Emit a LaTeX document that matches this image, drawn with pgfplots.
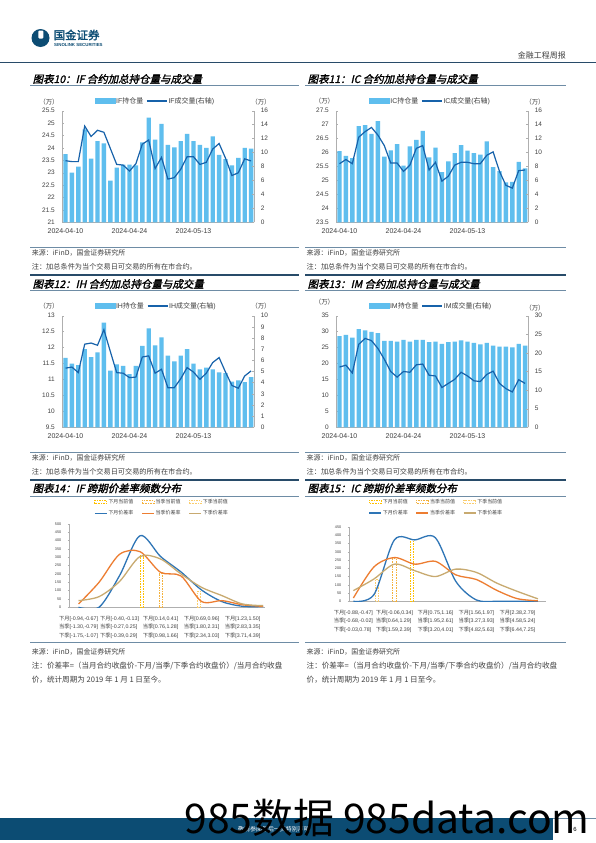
\documentclass[border=0pt]{standalone}
\usepackage{pgfplots}
\pgfplotsset{compat=1.18}
\usepackage{pgfplotstable}
\usepackage{fontspec}
\setmainfont{Liberation Sans}
\newfontfamily\cjk{Noto Sans CJK SC}
\newfontfamily\cjktitle[FakeSlant=0.22,FakeBold=1.6]{Noto Sans CJK SC}
\newfontfamily\cjkbold[FakeBold=2]{Noto Sans CJK SC}
\newcommand{\zh}[1]{{\cjk #1}}

\definecolor{barblue}{RGB}{95,190,238}
\definecolor{lineblue}{RGB}{23,98,170}
\definecolor{axgray}{RGB}{175,175,175}
\definecolor{txtgray}{RGB}{64,64,64}
\definecolor{dblue}{RGB}{46,117,182}
\definecolor{dorange}{RGB}{237,125,49}
\definecolor{dtan}{RGB}{200,170,112}
\definecolor{cyA}{RGB}{255,192,0}
\definecolor{cyB}{RGB}{244,177,60}
\definecolor{cyC}{RGB}{250,205,110}
\definecolor{hdrblue}{RGB}{12,76,115}
\definecolor{linegb}{RGB}{110,140,165}
\definecolor{linedk}{RGB}{40,75,105}

\pgfplotstableread{
x oi vol
0 23.75 8.83
1 23.00 8.70
2 23.25 8.70
3 24.75 13.8
4 23.57 12.3
5 24.27 13.2
6 24.18 12.9
7 22.68 10.6
8 23.20 8.3
9 23.33 8.2
10 23.33 7.35
11 23.30 8.4
12 24.22 11.2
13 25.22 11.8
14 24.33 7.7
15 24.97 9.3
16 24.12 6.2
17 24.02 6.4
18 24.27 7.6
19 24.57 9.4
20 24.27 9.4
21 24.12 8.3
22 24.00 8.6
23 24.47 10.5
24 23.72 11.3
25 23.55 9.2
26 23.30 6.7
27 23.60 7.1
28 24.00 9.1
29 23.97 8.8
}\IFdata

\pgfplotstableread{
x oi vol
0 26.05 8.4
1 25.88 9.0
2 25.80 8.4
3 26.95 12.2
4 26.98 13.0
5 26.67 13.6
6 27.13 12.5
7 25.85 11.0
8 26.08 8.5
9 26.30 8.5
10 25.53 7.3
11 26.22 8.2
12 26.45 10.6
13 26.78 11.0
14 25.83 7.5
15 26.18 8.6
16 25.30 5.9
17 25.68 6.6
18 25.98 8.2
19 26.27 8.6
20 26.07 8.6
21 25.98 8.4
22 25.93 8.4
23 26.40 9.6
24 25.48 10.1
25 25.33 7.3
26 24.93 5.3
27 24.95 4.9
28 25.67 7.4
29 25.43 7.5
}\ICdata

\pgfplotstableread{
x oi vol
0 11.68 5.3
1 11.50 5.4
2 11.45 4.9
3 11.95 7.45
4 11.70 7.55
5 11.85 7.35
6 12.78 8.75
7 11.28 6.8
8 11.47 4.9
9 11.43 4.85
10 11.17 4.45
11 11.43 4.5
12 12.05 6.3
13 12.60 6.4
14 12.07 4.85
15 12.32 5.2
16 11.75 3.55
17 11.57 3.55
18 11.75 4.35
19 11.95 5.35
20 11.50 4.95
21 11.32 4.3
22 11.37 4.85
23 11.32 5.8
24 11.22 6.25
25 11.20 4.95
26 10.93 3.75
27 10.97 3.5
28 10.92 4.6
29 11.07 5.05
}\IHdata

\pgfplotstableread{
x oi vol
0 28.6 16.2
1 29.0 16.7
2 28.1 14.6
3 30.8 22.3
4 30.4 23.9
5 29.9 23.3
6 29.5 21.2
7 27.1 18.3
8 27.1 15.0
9 26.9 13.5
10 27.4 15.0
11 26.9 14.8
12 27.4 16.8
13 27.4 17.0
14 26.7 14.0
15 26.9 13.8
16 26.2 10.7
17 26.7 11.8
18 26.9 12.9
19 27.3 14.8
20 26.9 13.8
21 26.5 12.5
22 26.0 12.3
23 26.5 14.2
24 25.6 15.1
25 25.3 11.8
26 25.3 10.4
27 25.1 9.5
28 26.2 12.8
29 25.6 11.8
}\IMdata

\pgfplotstableread{
x a b c
0 0 20 40
1 0 150 64
2 190 318 155
3 430 334 305
4 305 210 290
5 212 188 200
6 104 35 120
7 34 40 70
8 6 15 20
9 5 6 10
}\IFdist

\pgfplotstableread{
x a b c
0 0 20 65
1 40 208 135
2 372 265 225
3 372 225 185
4 385 242 150
5 120 160 195
6 8 132 175
7 0 66 110
8 0 16 60
9 0 3 15
}\ICdist

\pgfplotsset{
  common/.style={scale only axis, width=192bp, height=111.6bp, xmin=-0.5, xmax=29.5,
    anchor=south west, tick align=inside, major tick length=2bp,
    tick style={draw=axgray, line width=0.4bp},
    axis line style={draw=axgray, line width=0.5bp},
    ticklabel style={font=\fontsize{6.5}{7}\selectfont, text=txtgray},
    /pgf/number format/assume math mode=true},
  leftax/.style={common, axis x line*=bottom, axis y line*=left,
    xtick={0,10,20}, xticklabels={2024-04-10,2024-04-24,2024-05-13},
    xticklabel style={font=\fontsize{7}{8}\selectfont, yshift=-2.5bp},
    yticklabel style={xshift=-4bp}, xtick style={draw=none}},
  rightax/.style={common, axis x line=none, axis y line*=right,
    yticklabel style={xshift=3bp},
    legend columns=2, legend cell align=left,
    legend style={draw=none, fill=none, inner sep=0pt, anchor=center,
      font=\fontsize{7}{8}\selectfont, text=txtgray,
      /tikz/every even column/.append style={column sep=2bp},
      nodes={inner sep=1bp}}},
  distax/.style={scale only axis, anchor=south west, ymin=0,
    axis x line*=bottom, axis y line*=left,
    axis line style={draw=axgray, line width=0.5bp},
    tick style={draw=axgray, line width=0.4bp}, major tick length=1.5bp, tick align=outside,
    xtick={0,2,4,6,8}, xtick style={draw=none},
    yticklabel style={font=\fontsize{3.8}{4}\selectfont, text=txtgray, xshift=-3bp},
    xticklabel style={align=left, font=\fontsize{5.3}{8.3}\selectfont, text=txtgray, yshift=-4bp},
    /pgf/number format/assume math mode=true,
    legend columns=3, legend cell align=left,
    legend style={draw=none, fill=none, inner sep=0pt, anchor=center,
      font=\fontsize{5}{6}\selectfont, text=txtgray, row sep=3.5bp,
      /tikz/every even column/.append style={column sep=7bp},
      nodes={inner sep=1bp}}},
  barlegend/.style={legend image code/.code={\fill[barblue] (0bp,-2.3bp) rectangle (20bp,2.3bp);}},
  linelegend/.style={legend image code/.code={\draw[lineblue, line width=1.2bp] (0bp,0bp) -- (20bp,0bp);}},
  dashleg/.style={legend image code/.code={\draw[#1, line width=0.8bp, dash pattern=on 1.6bp off 1bp] (0bp,-1.7bp) rectangle (12bp,1.7bp);}},
  lineleg/.style={legend image code/.code={\draw[#1, line width=1.3bp] (0bp,0bp) -- (12bp,0bp);}},
  cur/.style={ybar, bar width=3.2bp, bar shift=0pt, fill=white, draw=#1, line width=0.8bp, dash pattern=on 1.6bp off 1bp, forget plot},
  curve/.style={smooth, tension=0.5, line width=1.3bp, draw=#1, forget plot}
}

\begin{document}
\begin{tikzpicture}
\path[use as bounding box, fill=white] (0,0) rectangle (596bp,-843bp);

% ===== IF =====
\begin{axis}[leftax, at={(62.3bp,-222.3bp)}, ymin=21, ymax=25.5,
  ytick={21,21.5,22,22.5,23,23.5,24,24.5,25,25.5}]
\addplot[ybar, bar width=4.4bp, fill=barblue, draw=none] table[x=x,y=oi]{\IFdata};
\end{axis}
\begin{axis}[rightax, at={(62.3bp,-222.3bp)}, ymin=0, ymax=16, ytick={0,2,...,16},
  legend style={at={(0.483,1.087)}}]
\addlegendimage{barlegend}\addlegendentry{IF\zh{持仓量}}
\addlegendimage{linelegend}\addlegendentry{IF\zh{成交量}(\zh{右轴})}
\addplot[lineblue, line width=1.2bp, forget plot] table[x=x,y=vol]{\IFdata};
\end{axis}

% ===== IC =====
\begin{axis}[leftax, at={(336.3bp,-222.3bp)}, ymin=23.5, ymax=27.5,
  ytick={23.5,24,24.5,25,25.5,26,26.5,27,27.5}]
\addplot[ybar, bar width=4.4bp, fill=barblue, draw=none] table[x=x,y=oi]{\ICdata};
\end{axis}
\begin{axis}[rightax, at={(336.3bp,-222.3bp)}, ymin=0, ymax=16, ytick={0,2,...,16},
  legend style={at={(0.488,1.087)}}]
\addlegendimage{barlegend}\addlegendentry{IC\zh{持仓量}}
\addlegendimage{linelegend}\addlegendentry{IC\zh{成交量}(\zh{右轴})}
\addplot[lineblue, line width=1.2bp, forget plot] table[x=x,y=vol]{\ICdata};
\end{axis}

% ===== IH =====
\begin{axis}[leftax, at={(62.3bp,-427.3bp)}, ymin=9.5, ymax=13,
  ytick={9.5,10,10.5,11,11.5,12,12.5,13}]
\addplot[ybar, bar width=4.4bp, fill=barblue, draw=none] table[x=x,y=oi]{\IHdata};
\end{axis}
\begin{axis}[rightax, at={(62.3bp,-427.3bp)}, ymin=0, ymax=10, ytick={0,1,...,10},
  legend style={at={(0.486,1.087)}}]
\addlegendimage{barlegend}\addlegendentry{IH\zh{持仓量}}
\addlegendimage{linelegend}\addlegendentry{IH\zh{成交量}(\zh{右轴})}
\addplot[lineblue, line width=1.2bp, forget plot] table[x=x,y=vol]{\IHdata};
\end{axis}

% ===== IM =====
\begin{axis}[leftax, at={(336.3bp,-427.3bp)}, ymin=0, ymax=35,
  ytick={0,5,...,35}]
\addplot[ybar, bar width=4.4bp, fill=barblue, draw=none] table[x=x,y=oi]{\IMdata};
\end{axis}
\begin{axis}[rightax, at={(336.3bp,-427.3bp)}, ymin=0, ymax=30, ytick={0,5,...,30},
  legend style={at={(0.49,1.087)}}]
\addlegendimage{barlegend}\addlegendentry{IM\zh{持仓量}}
\addlegendimage{linelegend}\addlegendentry{IM\zh{成交量}(\zh{右轴})}
\addplot[lineblue, line width=1.2bp, forget plot] table[x=x,y=vol]{\IMdata};
\end{axis}

% ===== IF distribution =====
\begin{axis}[distax, at={(69.3bp,-607.3bp)}, width=195.8bp, height=83.3bp,
  xmin=-0.45, xmax=9.1, ymax=500, ytick={0,50,...,500},
  xticklabels={{\zh{下月}[-0.94,-0.67]\\\zh{当季}[-1.30,-0.79]\\\zh{下季}[-1.75,-1.07]},
               {\zh{下月}[-0.40,-0.13]\\\zh{当季}[-0.27,0.25]\\\zh{下季}[-0.39,0.29]},
               {\zh{下月}[0.14,0.41]\\\zh{当季}[0.76,1.28]\\\zh{下季}[0.98,1.66]},
               {\zh{下月}[0.69,0.96]\\\zh{当季}[1.80,2.31]\\\zh{下季}[2.34,3.03]},
               {\zh{下月}[1.23,1.50]\\\zh{当季}[2.83,3.35]\\\zh{下季}[3.71,4.39]}},
  legend style={at={(0.471,1.196)}}]
\addlegendimage{dashleg=cyA}\addlegendentry{\zh{下月当前值}}
\addlegendimage{dashleg=cyB}\addlegendentry{\zh{当季当前值}}
\addlegendimage{dashleg=cyC}\addlegendentry{\zh{下季当前值}}
\addlegendimage{lineleg=dblue}\addlegendentry{\zh{下月价差率}}
\addlegendimage{lineleg=dorange}\addlegendentry{\zh{当季价差率}}
\addlegendimage{lineleg=dtan}\addlegendentry{\zh{下季价差率}}
\addplot[cur=cyA] coordinates {(3.09,310)};
\addplot[cur=cyB] coordinates {(4.0,205)};
\addplot[cur=cyC] coordinates {(5.87,95)};
\addplot[curve=dblue] table[x=x,y=a]{\IFdist};
\addplot[curve=dorange] table[x=x,y=b]{\IFdist};
\addplot[curve=dtan] table[x=x,y=c]{\IFdist};
\node[rotate=-90, anchor=center, inner sep=0, text=txtgray, font=\fontsize{4.8}{5}\selectfont]
  at (rel axis cs:1.03,-0.15) {\zh{单位：}\%};
\end{axis}

% ===== IC distribution =====
\begin{axis}[distax, at={(349.3bp,-601.3bp)}, width=196.8bp, height=74.3bp,
  xmin=-0.2, xmax=9.4, ymax=450, ytick={0,50,...,450},
  xticklabels={{\zh{下月}[-0.88,-0.47]\\\zh{当季}[-0.68,-0.02]\\\zh{下季}[-0.03,0.78]},
               {\zh{下月}[-0.06,0.34]\\\zh{当季}[0.64,1.29]\\\zh{下季}[1.59,2.39]},
               {\zh{下月}[0.75,1.16]\\\zh{当季}[1.95,2.61]\\\zh{下季}[3.20,4.01]},
               {\zh{下月}[1.56,1.97]\\\zh{当季}[3.27,3.93]\\\zh{下季}[4.82,5.63]},
               {\zh{下月}[2.38,2.79]\\\zh{当季}[4.58,5.24]\\\zh{下季}[6.44,7.25]}},
  legend style={at={(0.44,1.265)}}]
\addlegendimage{dashleg=cyA}\addlegendentry{\zh{下月当前值}}
\addlegendimage{dashleg=cyB}\addlegendentry{\zh{当季当前值}}
\addlegendimage{dashleg=cyC}\addlegendentry{\zh{下季当前值}}
\addlegendimage{lineleg=dblue}\addlegendentry{\zh{下月价差率}}
\addlegendimage{lineleg=dorange}\addlegendentry{\zh{当季价差率}}
\addlegendimage{lineleg=dtan}\addlegendentry{\zh{下季价差率}}
\addplot[cur=cyC] coordinates {(1.16,133)};
\addplot[cur=cyB] coordinates {(2.0,260)};
\addplot[cur=cyA] coordinates {(2.86,375)};
\addplot[curve=dblue] table[x=x,y=a]{\ICdist};
\addplot[curve=dorange] table[x=x,y=b]{\ICdist};
\addplot[curve=dtan] table[x=x,y=c]{\ICdist};
\node[rotate=-90, anchor=center, inner sep=0, text=txtgray, font=\fontsize{4.8}{5}\selectfont]
  at (rel axis cs:1.01,-0.2) {\zh{单位：}\%};
\end{axis}

% ===== page decorations =====
\begin{scope}[x=1bp,y=-1bp]
% header
\fill[hdrblue] (40.5,38) circle (9);
\fill[white, rounded corners=1bp] (38.3,30.5) rectangle (43.3,38.5);
\node[anchor=west, inner sep=0, text=hdrblue] at (53.5,35) {\cjkbold\fontsize{11.5}{12}\selectfont 国金证券};
\node[anchor=west, inner sep=0, text=hdrblue] at (54,44.7) {\fontsize{4.4}{5}\selectfont\bfseries SINOLINK SECURITIES};
\node[anchor=east, inner sep=0, text=txtgray] at (566,55) {\cjk\fontsize{8}{9}\selectfont 金融工程周报};
\draw[linedk, line width=1.2bp] (0,62.7) -- (596,62.7);

% titles
\foreach \tx/\ty/\tt in {32.5/79/{图表10：IF 合约加总持仓量与成交量},
                         307.5/79/{图表11：IC 合约加总持仓量与成交量},
                         32.5/284/{图表12：IH 合约加总持仓量与成交量},
                         307.5/284/{图表13：IM 合约加总持仓量与成交量},
                         32.5/488.3/{图表14：IF 跨期价差率频数分布},
                         307.5/488.3/{图表15：IC 跨期价差率频数分布}}
  {\node[anchor=west, inner sep=0] at (\tx,\ty) {\cjktitle\fontsize{10.5}{11}\selectfont \tt};}

% lines
\foreach \ly in {85.7,290.7,496} {
  \draw[linegb, line width=0.8bp] (30,\ly) -- (299,\ly);
  \draw[linegb, line width=0.8bp] (305,\ly) -- (566,\ly);}
\foreach \ly in {247.3,452.3,642.5} {
  \draw[linegb, line width=0.8bp] (30,\ly) -- (299,\ly);
  \draw[linegb, line width=0.8bp] (305,\ly) -- (566,\ly);}
\foreach \ly in {275,480} {
  \draw[linedk, line width=1.3bp] (30,\ly) -- (299,\ly);
  \draw[linedk, line width=1.3bp] (305,\ly) -- (566,\ly);}

% units
\foreach \ux/\uy in {49/102,261/102,324.5/101,535/102,49/306,261/306,324.5/302.3,535/307.7}
  {\node[inner sep=0, text=txtgray] at (\ux,\uy) {\cjk\fontsize{6.5}{7}\selectfont （万）};}

% sources and notes
\foreach \sx in {31.7,306.5} {
  \node[anchor=west, inner sep=0, text=txtgray] at (\sx,252.5) {\cjk\fontsize{7}{8}\selectfont 来源：iFinD，国金证券研究所};
  \node[anchor=west, inner sep=0, text=txtgray] at (\sx,266.7) {\cjk\fontsize{7.2}{8}\selectfont 注：加总条件为当个交易日可交易的所有在市合约。};
  \node[anchor=west, inner sep=0, text=txtgray] at (\sx,457.5) {\cjk\fontsize{7}{8}\selectfont 来源：iFinD，国金证券研究所};
  \node[anchor=west, inner sep=0, text=txtgray] at (\sx,471.7) {\cjk\fontsize{7.2}{8}\selectfont 注：加总条件为当个交易日可交易的所有在市合约。};
  \node[anchor=west, inner sep=0, text=txtgray] at (\sx,652) {\cjk\fontsize{7}{8}\selectfont 来源：iFinD，国金证券研究所};
  \node[anchor=west, inner sep=0, text=txtgray] at (\sx,666) {\cjk\fontsize{7.6}{8}\selectfont 注：价差率=（当月合约收盘价-下月/当季/下季合约收盘价）/当月合约收盘};
  \node[anchor=west, inner sep=0, text=txtgray] at (\sx,680) {\cjk\fontsize{7.6}{8}\selectfont 价，统计周期为 2019 年 1 月 1 日至今。};
}

% footer
\fill[hdrblue] (0,818) rectangle (553,840);
\draw[linegb, line width=0.6bp] (553,818) -- (596,818);
\node[text=white, inner sep=0] at (274,829) {\cjk\fontsize{6}{7}\selectfont 敬请参阅最后一页特别声明};
\node[inner sep=0] at (575,829) {\fontsize{6}{7}\selectfont 6};
\node[inner sep=0] at (387,818) {\cjk\fontsize{41}{45}\selectfont 985数据 985data.com};
\end{scope}
\end{tikzpicture}
\end{document}
